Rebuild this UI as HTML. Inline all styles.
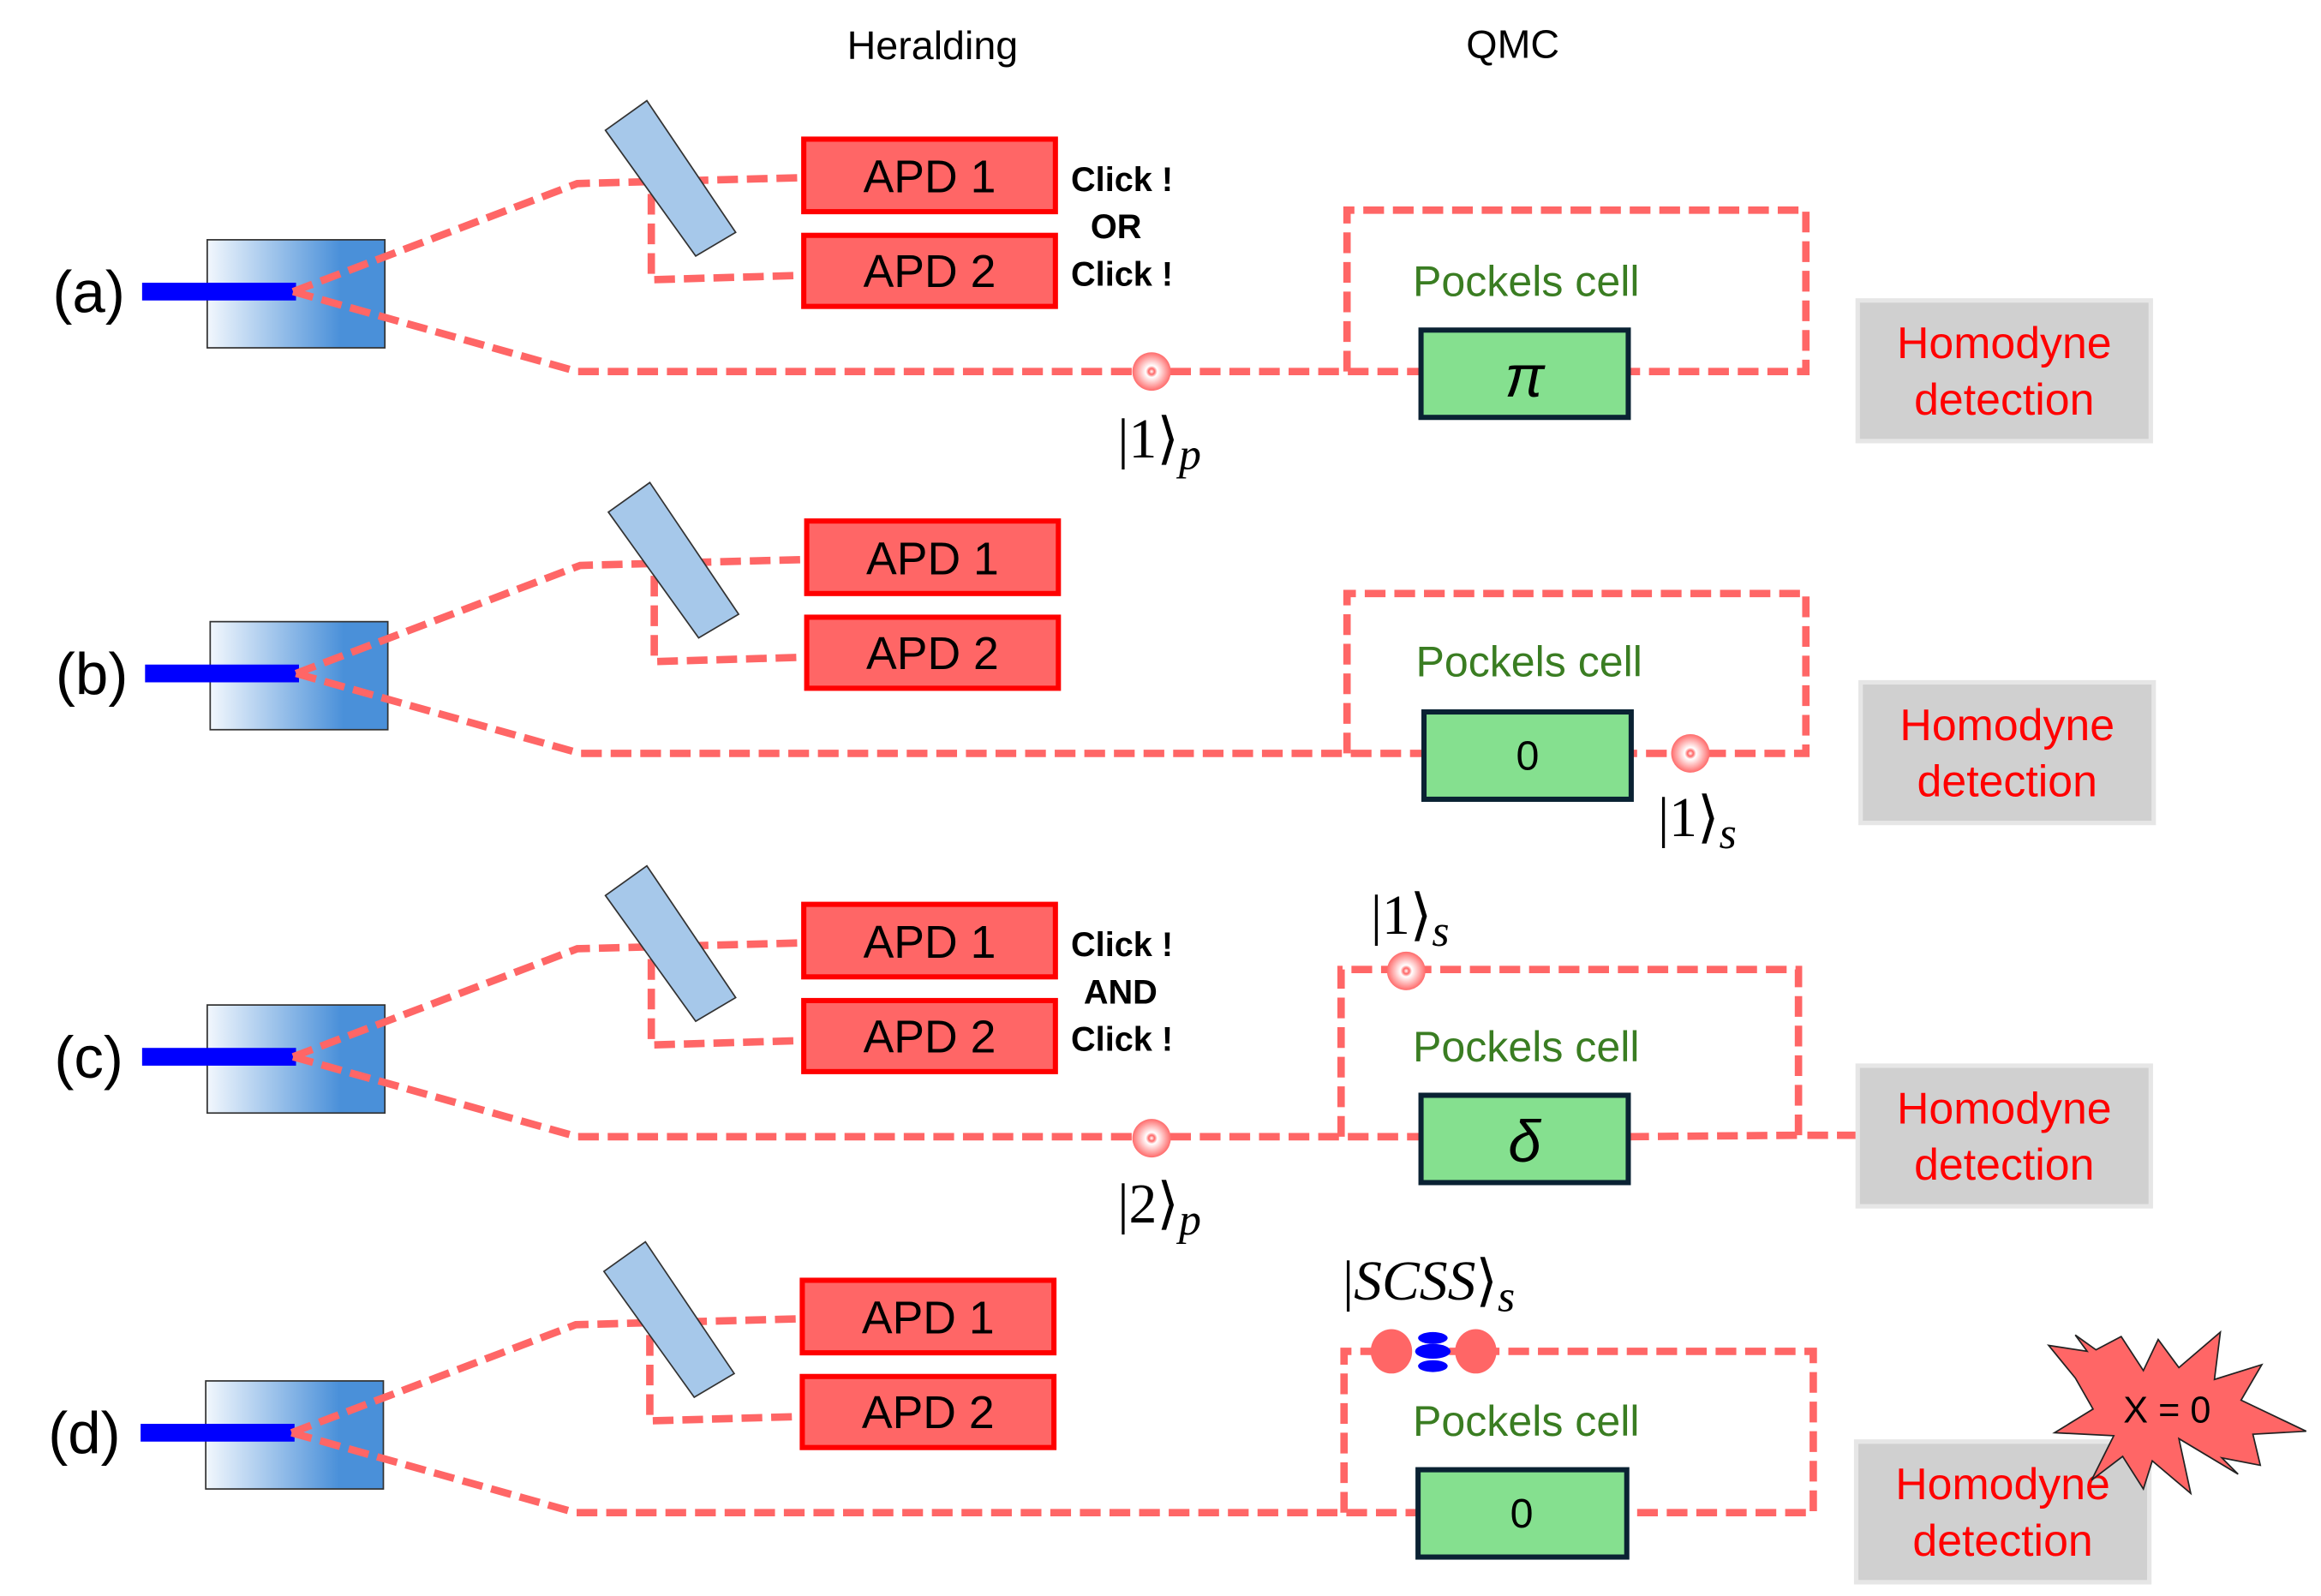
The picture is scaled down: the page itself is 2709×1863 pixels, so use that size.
<!DOCTYPE html>
<html><head><meta charset="utf-8"><style>
html,body{margin:0;padding:0;background:#fff;}
svg{display:block;}
text{font-family:"Liberation Sans",sans-serif;}
.m{font-family:"Liberation Serif",serif;font-size:38px;fill:#000;}
.d{fill:none;stroke:#ff6666;stroke-width:5;stroke-dasharray:14 6;}
.apd{fill:#ff6666;stroke:#ff0000;stroke-width:3.5;}
.at{font-size:31px;fill:#000;text-anchor:middle;}
.ck{font-size:23px;font-weight:bold;fill:#000;text-anchor:middle;}
.pc{font-size:29px;fill:#3a7d22;text-anchor:middle;}
.gb{fill:#85e08f;stroke:#0a2233;stroke-width:3.5;}
.hb{fill:#d0d0d0;stroke:#e6e6e6;stroke-width:3;}
.ht{font-size:30px;fill:#ff0000;text-anchor:middle;}
.lab{font-size:40px;fill:#000;text-anchor:middle;}
</style></head><body>
<svg width="2709" height="1863" viewBox="0 0 1568 1078.3" xmlns="http://www.w3.org/2000/svg">
<defs>
<linearGradient id="cg" x1="0" x2="1" y1="0" y2="0">
<stop offset="0" stop-color="#f2f7fd"/><stop offset="0.75" stop-color="#4a90d9"/><stop offset="1" stop-color="#4a90d9"/>
</linearGradient>
<radialGradient id="ph"><stop offset="0" stop-color="#fff"/><stop offset="0.15" stop-color="#ff6666"/><stop offset="0.3" stop-color="#fff"/><stop offset="1" stop-color="#ff6b6b"/></radialGradient>
<g id="src">
<rect x="140" y="162" width="120" height="73" fill="url(#cg)" stroke="#333" stroke-width="1"/>
<rect x="96" y="191" width="104" height="12" fill="#0000ff"/>
<path class="d" d="M198,197 L390,124 L543,120"/>
<path class="d" d="M440,131 L440,189 L543,186"/>
<polygon points="409,88 437,68 497,157 470,173" fill="#a6c8ea" stroke="#333" stroke-width="1"/>
<rect class="apd" x="543" y="94" width="170" height="49"/>
<text class="at" x="628" y="130">APD 1</text>
<rect class="apd" x="543" y="159" width="170" height="48"/>
<text class="at" x="628" y="194">APD 2</text>
<path class="d" d="M198,197 L390,251 L960,251"/>
</g>
</defs>
<text x="630" y="40" font-size="27" text-anchor="middle">Heralding</text>
<text x="1022" y="39" font-size="27" text-anchor="middle">QMC</text>

<!-- (a) -->
<g>
<use href="#src"/>
<text class="lab" x="60" y="211">(a)</text>
<text class="ck" x="758" y="129">Click !</text>
<text class="ck" x="754" y="161">OR</text>
<text class="ck" x="758" y="193">Click !</text>
<path class="d" d="M910,251 L910,142 L1220,142 L1220,251 L1100,251"/>
<circle cx="778" cy="251" r="13" fill="url(#ph)"/>
<text class="m" x="755" y="309">|1⟩<tspan font-style="italic" font-size="30" dy="8">p</tspan></text>
<text class="pc" x="1031" y="200">Pockels cell</text>
<rect class="gb" x="960" y="223" width="140" height="59"/>
<text x="1030" y="268" font-family="Liberation Serif,serif" font-style="italic" font-size="40" text-anchor="middle">π</text>
<rect class="hb" x="1255" y="203" width="198" height="95"/>
<text class="ht" x="1354" y="242">Homodyne</text>
<text class="ht" x="1354" y="280">detection</text>
</g>

<!-- (b) -->
<g transform="translate(2,258)">
<use href="#src"/>
<text class="lab" x="60" y="211">(b)</text>
<path class="d" d="M908,251 L908,143 L1218,143 L1218,251 L1100,251"/>
<text class="pc" x="1031" y="199">Pockels cell</text>
<rect class="gb" x="960" y="223" width="140" height="59"/>
<text x="1030" y="262" font-family="Liberation Serif,serif" font-size="28" text-anchor="middle">0</text>
<circle cx="1140" cy="251" r="13" fill="url(#ph)"/>
<text class="m" x="1118" y="307">|1⟩<tspan font-style="italic" font-size="30" dy="8">s</tspan></text>
<rect class="hb" x="1255" y="203" width="198" height="95"/>
<text class="ht" x="1354" y="242">Homodyne</text>
<text class="ht" x="1354" y="280">detection</text>
</g>

<!-- (c) -->
<g transform="translate(0,517)">
<use href="#src"/>
<text class="lab" x="60" y="211">(c)</text>
<text class="ck" x="758" y="129">Click !</text>
<text class="ck" x="757" y="161">AND</text>
<text class="ck" x="758" y="193">Click !</text>
<path class="d" d="M906,251 L906,138 L1215,138 L1215,250 L1255,250"/>
<path class="d" d="M1100,251 L1215,250"/>
<circle cx="778" cy="252" r="13" fill="url(#ph)"/>
<circle cx="950" cy="139" r="13" fill="url(#ph)"/>
<text class="m" x="926" y="114">|1⟩<tspan font-style="italic" font-size="30" dy="8">s</tspan></text>
<text class="m" x="755" y="309">|2⟩<tspan font-style="italic" font-size="30" dy="8">p</tspan></text>
<text class="pc" x="1031" y="200">Pockels cell</text>
<rect class="gb" x="960" y="223" width="140" height="59"/>
<text x="1030" y="268" font-family="Liberation Serif,serif" font-style="italic" font-size="40" text-anchor="middle">δ</text>
<rect class="hb" x="1255" y="203" width="198" height="95"/>
<text class="ht" x="1354" y="242">Homodyne</text>
<text class="ht" x="1354" y="280">detection</text>
</g>

<!-- (d) -->
<g transform="translate(-1,771)">
<use href="#src"/>
<text class="lab" x="58" y="211">(d)</text>
<path class="d" d="M909,251 L909,142 L1226,142 L1226,251 L1100,251"/>
<text class="pc" x="1032" y="199">Pockels cell</text>
<rect class="gb" x="959" y="222" width="141" height="59"/>
<text x="1029" y="261" font-family="Liberation Serif,serif" font-size="28" text-anchor="middle">0</text>
<ellipse cx="941" cy="142" rx="14" ry="15" fill="#ff6666"/>
<ellipse cx="998" cy="142" rx="14" ry="15" fill="#ff6666"/>
<ellipse cx="969" cy="133" rx="10" ry="4" fill="#0000ff"/>
<ellipse cx="969" cy="142" rx="12" ry="5" fill="#0000ff"/>
<ellipse cx="969" cy="152" rx="10" ry="4" fill="#0000ff"/>
<text class="m" x="908" y="107">|<tspan font-style="italic">SCSS</tspan>⟩<tspan font-style="italic" font-size="30" dy="8">s</tspan></text>
<rect class="hb" x="1255" y="203" width="198" height="95"/>
<text class="ht" x="1354" y="242">Homodyne</text>
<text class="ht" x="1354" y="280">detection</text>
</g>
<polygon points="1402,931 1384,909 1410,913 1402,902 1416,912 1433,903 1448,926 1458,905 1472,924 1500,900 1496,932 1528,922 1514,946 1558,967 1522,969 1527,990 1501,985 1512,996 1472,972 1480,1009 1454,987 1448,1006 1434,984 1413,1000 1428,970 1388,968 1414,952" fill="#ff6666" stroke="#222" stroke-width="1"/>
<text x="1464" y="961" font-size="25" text-anchor="middle">X = 0</text>
</svg>
</body></html>
